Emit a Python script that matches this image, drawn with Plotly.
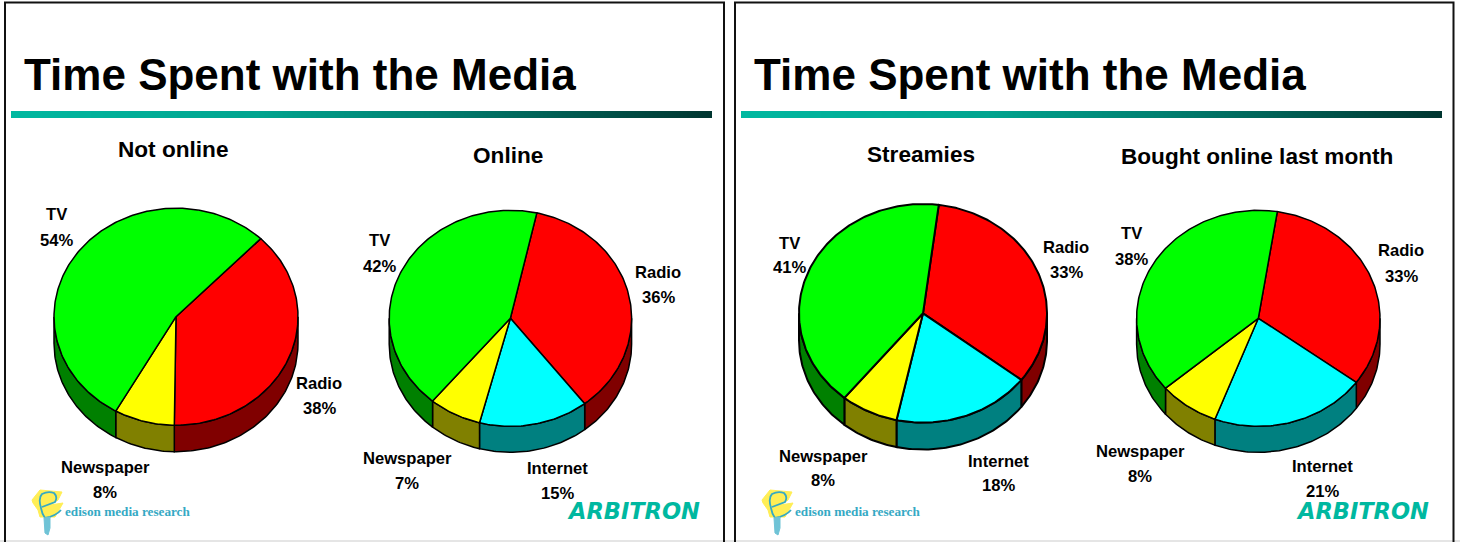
import numpy as np
import plotly.graph_objects as go

# ---- data -------------------------------------------------------------
panel_title = "Time Spent with the Media"
chart_titles = ["Not online", "Online", "Streamies", "Bought online last month"]
cat_all = ["Radio", "Internet", "Newspaper", "TV"]
not_online = [38, 0, 8, 54]
online = [36, 14.6, 7, 42.4]
streamies = [33.4, 18, 7.5, 41.1]
bought = [32.6, 20.7, 8.0, 38.7]
shown_not_online = ["38%", None, "8%", "54%"]
shown_online = ["36%", "15%", "7%", "42%"]
shown_streamies = ["33%", "18%", "8%", "41%"]
shown_bought = ["33%", "21%", "8%", "38%"]
top_colors = {"Radio": "#ff0000", "Internet": "#00ffff", "Newspaper": "#ffff00", "TV": "#00ff00"}
side_colors = {"Radio": "#800000", "Internet": "#008080", "Newspaper": "#808000", "TV": "#008000"}

# ---- layout of the four pies: centre, radii, depth, first angle --------
geom = [
    dict(cx=176.0, cy=316.7, rx=122.0, ry=108.5, d=26.5, start=44.0, lw=1.5),
    dict(cx=510.4, cy=318.3, rx=121.2, ry=108.0, d=26.0, start=12.6, lw=1.5),
    dict(cx=923.0, cy=313.3, rx=124.0, ry=109.3, d=27.0, start=7.3, lw=2.0),
    dict(cx=1258.3, cy=318.3, rx=121.7, ry=108.0, d=26.0, start=9.0, lw=1.5),
]
label_pos = [
    {"Radio": (319, 383, 408), "Newspaper": (105, 467, 492), "TV": (56, 214, 240)},
    {"Radio": (658, 272, 297), "Internet": (557, 468, 493), "Newspaper": (407, 458, 483), "TV": (379, 240, 266)},
    {"Radio": (1066, 247, 272), "Internet": (998, 461, 485), "Newspaper": (823, 456, 480), "TV": (789, 243, 267)},
    {"Radio": (1401, 250, 276), "Internet": (1322, 466, 491), "Newspaper": (1140, 451, 476), "TV": (1131, 233, 259)},
]
title_pos = [(173, 149), (508, 155.5), (921, 154), (1257, 156)]
series = [not_online, online, streamies, bought]
shown = [shown_not_online, shown_online, shown_streamies, shown_bought]

W, H = 1460, 542
fig = go.Figure()


def arc(g, a0, a1, dy=0.0):
    n = max(2, int(abs(a1 - a0)) + 2)
    t = np.radians(np.linspace(a0, a1, n))
    return g["cx"] + g["rx"] * np.sin(t), g["cy"] - g["ry"] * np.cos(t) + dy


for g, vals in zip(geom, series):
    edges = g["start"] + np.concatenate([[0], np.cumsum(vals)]) * 3.6
    # side walls (lower half of the rim only)
    for name, v, a0, a1 in zip(cat_all, vals, edges[:-1], edges[1:]):
        if v == 0:
            continue
        lo, hi = max(a0, 90), min(a1, 270)
        if hi <= lo:
            continue
        xt, yt = arc(g, lo, hi)
        xb, yb = arc(g, hi, lo, g["d"])
        fig.add_trace(go.Scatter(x=np.r_[xt, xb, xt[:1]], y=np.r_[yt, yb, yt[:1]], mode="lines",
                                 fill="toself", fillcolor=side_colors[name],
                                 line=dict(color="black", width=g["lw"]), hoverinfo="skip"))
    # top faces
    for name, v, a0, a1 in zip(cat_all, vals, edges[:-1], edges[1:]):
        if v == 0:
            continue
        xa, ya = arc(g, a0, a1)
        fig.add_trace(go.Scatter(x=np.r_[g["cx"], xa, g["cx"]], y=np.r_[g["cy"], ya, g["cy"]], mode="lines",
                                 fill="toself", fillcolor=top_colors[name],
                                 line=dict(color="black", width=g["lw"]), hoverinfo="skip"))

# gradient title rules
for x0, x1 in [(11, 712), (741, 1442)]:
    n = x1 - x0
    fig.add_trace(go.Heatmap(z=[np.linspace(0, 1, n).tolist()], x0=x0 + 0.5, dx=1, y0=114.5, dy=7,
                             colorscale=[[0, "#00b8a0"], [0.35, "#00a48f"], [0.6, "#007f70"], [1, "#003530"]],
                             showscale=False, hoverinfo="skip"))

shapes = [
    dict(type="line", x0=0, x1=W, y0=541, y1=541, line=dict(color="#dddddd", width=1.5), layer="below"),
    dict(type="path", path="M5,542 L5,2.5 L724,2.5 L724,542", line=dict(color="#111111", width=2), layer="below"),
    dict(type="path", path="M735,542 L735,2.5 L1453.5,2.5 L1453.5,542", line=dict(color="#111111", width=2), layer="below"),
]
blob = [(32, 500), (40, 490), (62, 492), (58, 500), (50, 505), (63, 503), (55, 517), (40, 517), (38, 510), (33, 503)]
for off in (0, 730):
    # edison bulb logo
    shapes.append(dict(type="path", layer="below", line=dict(color="#ffee55", width=1), fillcolor="#ffee55",
                       path="M" + " L".join(f"{x+off},{y}" for x, y in blob) + " Z"))
    shapes.append(dict(type="path", layer="below", line=dict(color="#35a9c4", width=1.8),
                       path=f"M{41+off},508 Q{38+off},498 {42+off},494 Q{48+off},491 {54+off},493 Q{58+off},497 {55+off},502 "
                            f"L{42+off},507 M{41+off},508 Q{42+off},514 {45+off},518 M{45+off},518 Q{56+off},516 {61+off},510"))
    shapes.append(dict(type="path", layer="below", line=dict(color="#6fc3d6", width=1), fillcolor="#6fc3d6",
                       path=f"M{44+off},518 L{50+off},517 L{50+off},528 L{48+off},535 L{45+off},533 Z"))

ann = []
ff = "Liberation Sans"


def text(x, y, s, size, color="black", family=ff, bold=True):
    ann.append(dict(x=x, y=y, text=f"<b>{s}</b>" if bold else s, showarrow=False, xanchor="center", yanchor="middle",
                    font=dict(family=family, size=size, color=color)))


for cx in (300, 1030):
    text(cx, 74, panel_title, 44)
for s, (x, y) in zip(chart_titles, title_pos):
    text(x, y, s, 22.6)
for lp, sh in zip(label_pos, shown):
    for name, pct in zip(cat_all, sh):
        if pct is None:
            continue
        x, y1, y2 = lp[name]
        text(x, y1, name, 16.6)
        text(x, y2, pct, 16.6)
for off in (0, 730):
    text(127.5 + off, 511, "edison media research", 13.2, "#35a9c4", "Liberation Serif")
text(633, 510.5, "<i>ARBITRON</i>", 22.5, "#00b8a0", "DejaVu Sans")
text(1362.5, 510.5, "<i>ARBITRON</i>", 22.5, "#00b8a0", "DejaVu Sans")

fig.update_layout(
    width=W, height=H, margin=dict(l=0, r=0, t=0, b=0), showlegend=False,
    paper_bgcolor="white", plot_bgcolor="white", shapes=shapes, annotations=ann,
    xaxis=dict(range=[0, W], visible=False, fixedrange=True),
    yaxis=dict(range=[H, 0], visible=False, fixedrange=True),
)
fig.write_html("out.html", config={"displayModeBar": False},
               post_script="document.body.style.margin='0';document.body.style.overflow='hidden';")
